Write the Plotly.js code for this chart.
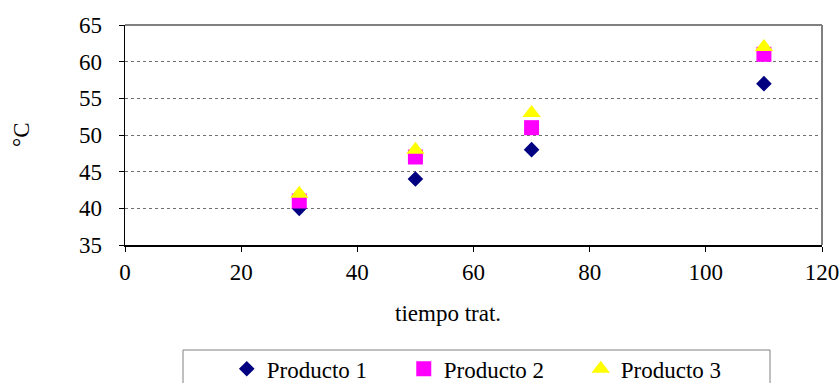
<!DOCTYPE html>
<html>
<head>
<meta charset="utf-8">
<script src="https://cdn.plot.ly/plotly-3.0.1.min.js"></script>
<style>html,body{margin:0;padding:0;background:#fff;}#chart{width:839px;height:383px;}</style>
</head>
<body>
<div id="chart"></div>
<script>
var tiempo = [30, 50, 70, 110];
var producto1 = [40, 44, 48, 57];
var producto2 = [41, 47, 51, 61];
var producto3 = [42, 48, 53, 62];
var seriesNames = ["Producto 1", "Producto 2", "Producto 3"];
var xTitle = "tiempo trat.";
var yTitle = "°C";

var font = "Liberation Serif";
var fs = 23;
var traces = [
  {x: tiempo, y: producto1, name: seriesNames[0], type: "scatter", mode: "markers",
   marker: {symbol: "diamond", size: 12, color: "#000080"}},
  {x: tiempo, y: producto2, name: seriesNames[1], type: "scatter", mode: "markers",
   marker: {symbol: "square", size: 15, color: "#FF00FF"}},
  {x: tiempo, y: producto3, name: seriesNames[2], type: "scatter", mode: "markers",
   marker: {symbol: "triangle-up", size: 16, color: "#FFFF00"}}
];
var layout = {
  width: 839, height: 383,
  margin: {l: 125, r: 17, t: 25, b: 138, autoexpand: false},
  paper_bgcolor: "#fff", plot_bgcolor: "#fff",
  font: {family: font, size: fs, color: "#000"},
  showlegend: true,
  legend: {orientation: "h", x: 0.146, xanchor: "left", y: -0.465, yanchor: "top",
    font: {family: font, size: fs, color: "#000"}, bgcolor: "rgba(0,0,0,0)",
    entrywidth: 132, entrywidthmode: "pixels", borderwidth: 0},
  xaxis: {range: [0, 120], dtick: 20, tick0: 0, ticks: "outside", ticklen: 5, tickcolor: "#000",
    showline: true, linecolor: "#000", linewidth: 1.5, showgrid: false, zeroline: false,
    ticklabelstandoff: 1, ticklabeloverflow: "allow", tickfont: {family: font, size: fs}, fixedrange: true},
  yaxis: {range: [35, 65], dtick: 5, tick0: 35, ticks: "outside", ticklen: 5, tickcolor: "#000",
    showline: true, linecolor: "#000", linewidth: 1.5, showgrid: true, gridcolor: "#707070",
    griddash: "dot", gridwidth: 1, zeroline: false, ticklabeloverflow: "allow",
    ticklabelstandoff: 12, tickfont: {family: font, size: fs}, fixedrange: true},
  shapes: [
    {type: "line", xref: "paper", yref: "paper", x0: 0, x1: 1, y0: 1, y1: 1, line: {color: "#808080", width: 2}},
    {type: "line", xref: "paper", yref: "paper", x0: 1, x1: 1, y0: 0, y1: 1, line: {color: "#808080", width: 2}},
    {type: "rect", xref: "paper", yref: "paper", x0: (183-125)/697, x1: (770-125)/697,
     y0: (245-350)/220, y1: (245-400)/220, line: {color: "#808080", width: 1}, layer: "below"}
  ],
  annotations: [
    {text: xTitle, xref: "paper", yref: "paper", x: (448-125)/697, y: (245-313)/220,
     xanchor: "center", yanchor: "middle", showarrow: false, font: {family: font, size: fs}},
    {text: yTitle, xref: "paper", yref: "paper", x: (21-125)/697, y: (245-135)/220,
     xanchor: "center", yanchor: "middle", textangle: -90, showarrow: false, font: {family: font, size: fs}}
  ]
};
Plotly.newPlot("chart", traces, layout, {staticPlot: true, displayModeBar: false});
</script>
</body>
</html>
